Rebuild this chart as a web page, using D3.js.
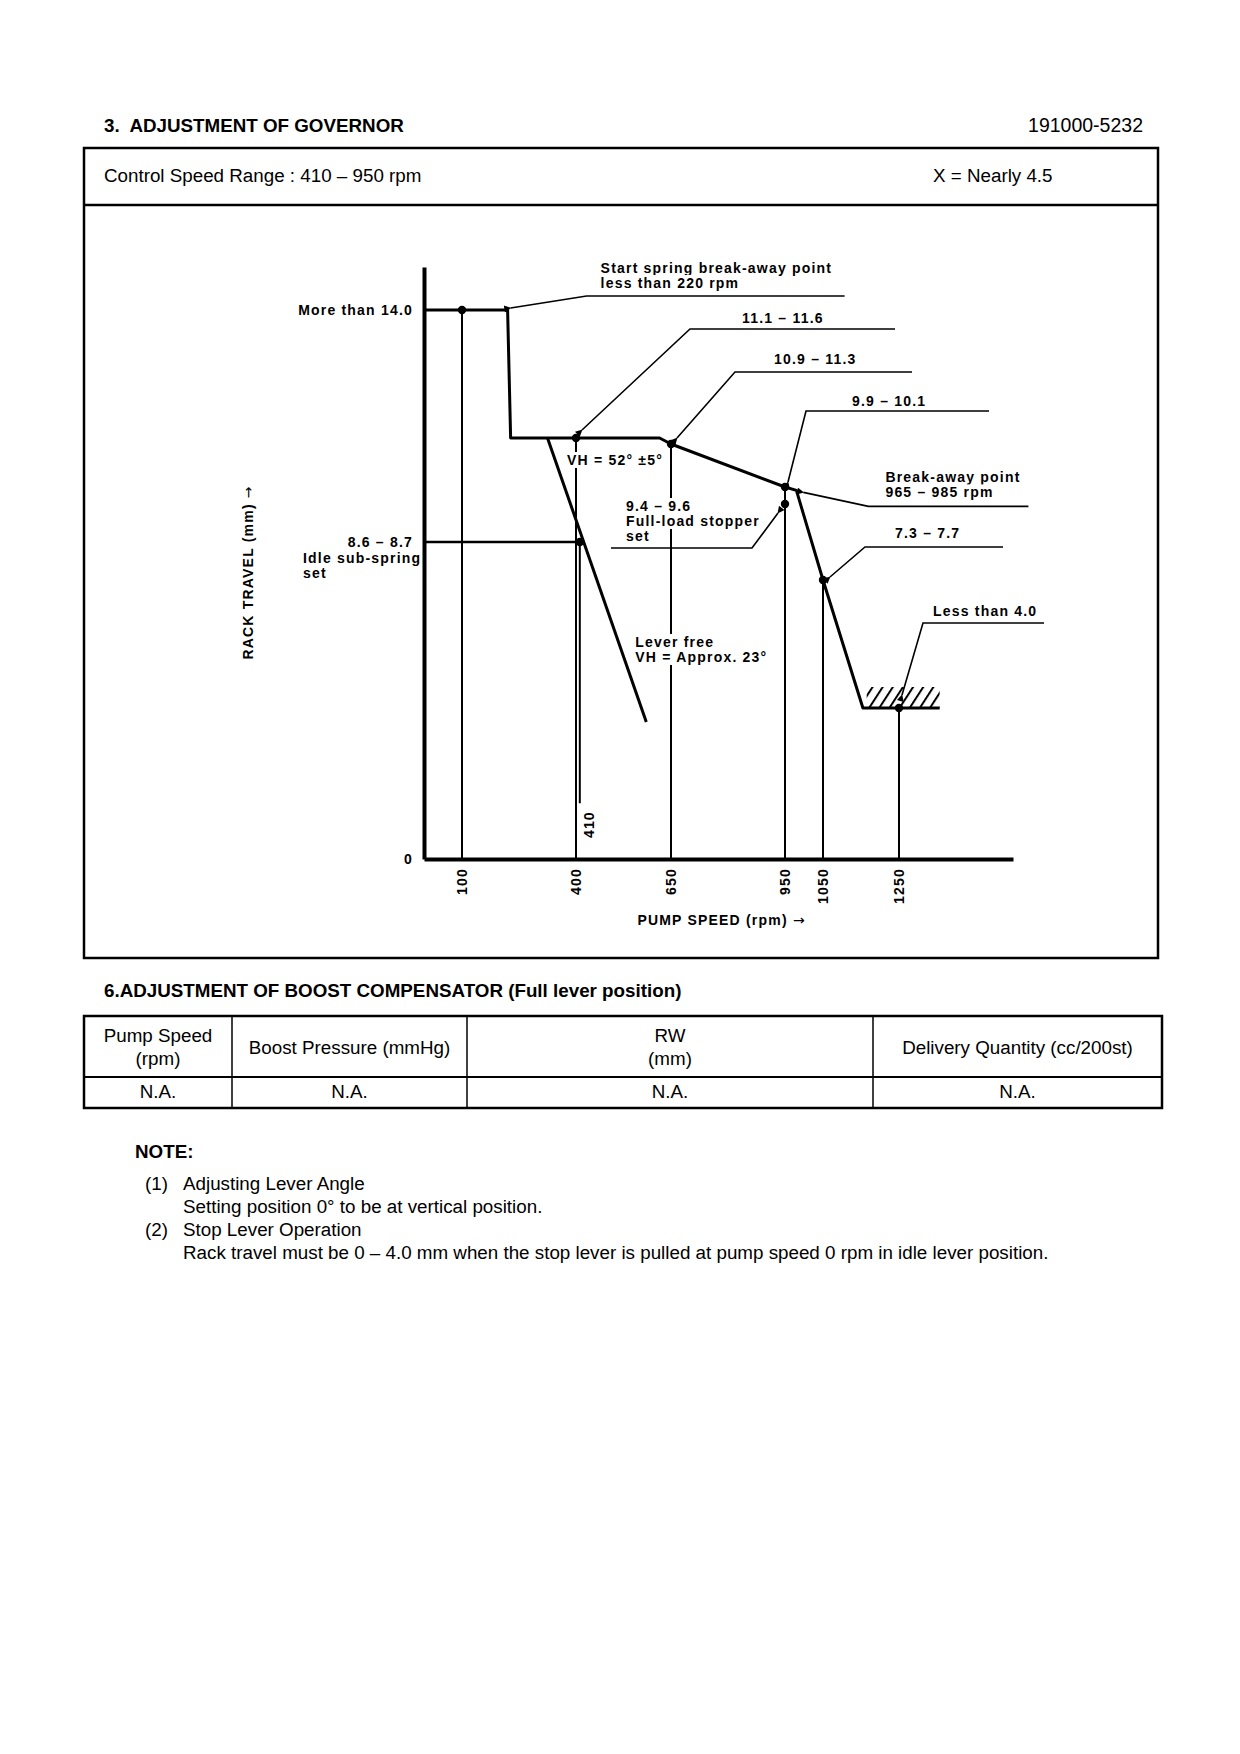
<!DOCTYPE html>
<html lang="en">
<head>
<meta charset="UTF-8">
<title>3. Adjustment of governor - 191000-5232</title>
<style>
  body { margin: 0; background: #fff; }
  svg { display: block; }
  .frame text { font-family: "Liberation Sans", Arial, sans-serif; font-size: 18.8px; fill: #000; }
  .frame .bold { font-weight: bold; }
  .chart text { font-family: "Liberation Sans", Arial, sans-serif; font-weight: bold; font-size: 14px; letter-spacing: 1.2px; fill: #000; }
  .chart .arrow { font-family: "DejaVu Sans", sans-serif; font-weight: normal; letter-spacing: 0; }
</style>
</head>
<body>
<svg id="page" width="1240" height="1754"></svg>
<script src="https://cdnjs.cloudflare.com/ajax/libs/d3/7.8.5/d3.min.js"></script>
<script>

// ---- data ----
let pumpNo = "191000-5232";
let controlRange = "Control Speed Range : 410 – 950 rpm";
let xValue = "X = Nearly 4.5";

let speedTicks = [100, 400, 650, 950, 1050, 1250];   // rpm
// governor curve at full lever, [rpm, rack mm]
let fullLoadCurve = [[0, 14.0], [100, 14.0], [220, 14.0], [228, 11.35], [400, 11.35], [620, 11.35],
                     [650, 11.1], [950, 10.0], [980, 9.9], [1050, 7.5], [1155, 4.0], [1357, 4.0]];
let leverFree = [[325, 11.35], [585, 3.63]];
let idleSet = [[0, 8.65], [410, 8.65]];
// vertical drop lines [rpm, from mm, to mm]
let dropLines = [[100, 14.0, 0], [400, 11.35, 0], [410, 8.65, 1.48], [650, 11.1, 0],
                 [950, 10.0, 0], [1050, 7.5, 0], [1250, 4.0, 0]];
let setPoints = [[100, 14.0], [400, 11.35], [410, 8.65], [650, 11.1], [950, 10.0], [950, 9.5], [1050, 7.5], [1250, 4.0]];
let stopRange = [1165, 1357];   // hatched stopper, rpm

let leaderLabels = [
  { at: [220, 14.0],  text: ["Start spring break-away point", "less than 220 rpm"] },
  { at: [400, 11.35], text: ["11.1 – 11.6"] },
  { at: [650, 11.1],  text: ["10.9 – 11.3"] },
  { at: [950, 10.0],  text: ["9.9 – 10.1"] },
  { at: [980, 9.9],   text: ["Break-away point", "965 – 985 rpm"] },
  { at: [1050, 7.5],  text: ["7.3 – 7.7"] },
  { at: [1250, 4.0],  text: ["Less than 4.0"] },
  { at: [950, 9.5],   text: ["9.4 – 9.6", "Full-load stopper", "set"] }
];

let tableHeads = [["Pump Speed", "(rpm)"], ["Boost Pressure (mmHg)"], ["RW", "(mm)"], ["Delivery Quantity (cc/200st)"]];
let tableRow = ["N.A.", "N.A.", "N.A.", "N.A."];

let notes = [
  ["(1)", "Adjusting Lever Angle", "Setting position 0° to be at vertical position."],
  ["(2)", "Stop Lever Operation", "Rack travel must be 0 – 4.0 mm when the stop lever is pulled at pump speed 0 rpm in idle lever position."]
];

// ---- page frame ----
const svg = d3.select("#page");
const frame = svg.append("g").attr("class", "frame");

frame.append("text").attr("class", "bold").attr("x", 104).attr("y", 132)
  .style("white-space", "pre").text("3.  ADJUSTMENT OF GOVERNOR");
frame.append("text").attr("x", 1143).attr("y", 132).attr("text-anchor", "end")
  .style("font-size", "19.5px").text(pumpNo);

frame.append("rect").attr("x", 84).attr("y", 148).attr("width", 1074).attr("height", 810)
  .attr("fill", "none").attr("stroke", "#000").attr("stroke-width", 2.5);
frame.append("line").attr("x1", 84).attr("x2", 1158).attr("y1", 205).attr("y2", 205)
  .attr("stroke", "#000").attr("stroke-width", 2.5);
frame.append("text").attr("x", 104).attr("y", 182).text(controlRange);
frame.append("text").attr("x", 933).attr("y", 182).text(xValue);

// boost compensator table
frame.append("text").attr("class", "bold").attr("x", 104).attr("y", 997)
  .text("6.ADJUSTMENT OF BOOST COMPENSATOR (Full lever position)");

let cols = [84, 232, 467, 873, 1162];
let tTop = 1016, tMid = 1077, tBot = 1108;
frame.append("rect").attr("x", cols[0]).attr("y", tTop).attr("width", cols[4] - cols[0]).attr("height", tBot - tTop)
  .attr("fill", "none").attr("stroke", "#000").attr("stroke-width", 2.5);
frame.append("line").attr("x1", cols[0]).attr("x2", cols[4]).attr("y1", tMid).attr("y2", tMid)
  .attr("stroke", "#000").attr("stroke-width", 2);
frame.selectAll(".coldiv").data(cols.slice(1, 4)).enter().append("line")
  .attr("x1", d => d).attr("x2", d => d).attr("y1", tTop).attr("y2", tBot)
  .attr("stroke", "#000").attr("stroke-width", 1.5);

tableHeads.forEach((lines, i) => {
  let cx = (cols[i] + cols[i + 1]) / 2;
  let base = lines.length > 1 ? 1042 : 1054;
  lines.forEach((s, j) => {
    frame.append("text").attr("x", cx).attr("y", base + j * 23).attr("text-anchor", "middle").text(s);
  });
  frame.append("text").attr("x", cx).attr("y", 1098).attr("text-anchor", "middle").text(tableRow[i]);
});

// notes
frame.append("text").attr("class", "bold").attr("x", 135).attr("y", 1158).text("NOTE:");
notes.forEach((n, i) => {
  let by = 1190 + i * 46;
  frame.append("text").attr("x", 145).attr("y", by).text(n[0]);
  frame.append("text").attr("x", 183).attr("y", by).text(n[1]);
  frame.append("text").attr("x", 183).attr("y", by + 23).text(n[2]);
});

// ---- governor diagram ----
const chart = svg.append("g").attr("class", "chart");

const x = d3.scaleLinear().domain([0, 1550]).range([424, 1013]);
// the sheet is drawn schematically, so rack travel uses a piecewise scale through the set values
const y = d3.scaleLinear()
  .domain([0, 4.0, 7.5, 8.65, 9.5, 10.0, 11.1, 11.35, 14.0, 15.0])
  .range([859, 708, 580, 542, 504, 487, 444, 438, 310, 267]);

const line = d3.line().x(d => x(d[0])).y(d => y(d[1]));

let defs = svg.append("defs");
defs.append("marker").attr("id", "arr").attr("viewBox", "0 0 10 10")
  .attr("refX", 1).attr("refY", 5).attr("markerWidth", 9).attr("markerHeight", 7)
  .attr("markerUnits", "userSpaceOnUse").attr("orient", "auto-start-reverse")
  .append("path").attr("d", "M0,5L10,0L10,10Z").attr("fill", "#000");
defs.append("pattern").attr("id", "hatch").attr("patternUnits", "userSpaceOnUse")
  .attr("width", 8.5).attr("height", 10).attr("patternTransform", "rotate(33)")
  .append("line").attr("x1", 1).attr("x2", 1).attr("y1", 0).attr("y2", 10)
  .attr("stroke", "#000").attr("stroke-width", 2);

// hatched stopper
chart.append("rect")
  .attr("x", x(stopRange[0])).attr("y", y(4.0) - 21)
  .attr("width", x(stopRange[1]) - x(stopRange[0])).attr("height", 21)
  .attr("fill", "url(#hatch)");

// drop lines
chart.selectAll(".drop").data(dropLines).enter().append("line")
  .attr("x1", d => x(d[0])).attr("x2", d => x(d[0]))
  .attr("y1", d => y(d[1])).attr("y2", d => y(d[2]))
  .attr("stroke", "#000").attr("stroke-width", 2);

chart.append("path").attr("d", line(idleSet)).attr("fill", "none")
  .attr("stroke", "#000").attr("stroke-width", 2.5);
chart.append("path").attr("d", line(leverFree)).attr("fill", "none")
  .attr("stroke", "#000").attr("stroke-width", 3);
chart.append("path").attr("d", line(fullLoadCurve)).attr("fill", "none")
  .attr("stroke", "#000").attr("stroke-width", 3).attr("stroke-linejoin", "round");

// axes
let xAxis = chart.append("g").attr("transform", `translate(0,${y(0)})`)
  .call(d3.axisBottom(x).tickValues(speedTicks).tickFormat(d3.format("d")).tickSize(0).tickSizeOuter(0));
xAxis.select(".domain").attr("stroke-width", 4);
xAxis.selectAll(".tick text")
  .attr("transform", "rotate(-90)").attr("x", -9).attr("y", 0).attr("dy", "0.35em")
  .attr("text-anchor", "end");

let yAxis = chart.append("g").attr("transform", `translate(${x(0)},0)`)
  .call(d3.axisLeft(y).tickValues([0, 14.0]).tickSize(0).tickSizeOuter(0).tickPadding(11)
    .tickFormat(d => d ? "More than 14.0" : "0"));
yAxis.select(".domain").attr("stroke-width", 4);

chart.append("text").attr("transform", `translate(${x(410) + 9},${y(1.48) + 8}) rotate(-90)`)
  .attr("dy", "0.35em").attr("text-anchor", "end").text("410");

let xTitle = chart.append("text").attr("x", 721).attr("y", y(0) + 66).attr("text-anchor", "middle")
  .text("PUMP SPEED (rpm) ");
xTitle.append("tspan").attr("class", "arrow").text("→");
let yTitle = chart.append("text").attr("transform", `translate(${x(0) - 176},573) rotate(-90)`)
  .attr("dy", "0.35em").attr("text-anchor", "middle").text("RACK TRAVEL (mm) ");
yTitle.append("tspan").attr("class", "arrow").text("→");

// labels sit on a blank patch, so lines behind them break as on the sheet
let labelLayer = chart.append("g");
function label(px, py, s) {
  let g = labelLayer.append("g");
  let bg = g.append("rect").attr("fill", "#fff");
  let t = g.append("text").attr("x", px).attr("y", py).text(s);
  let b = t.node().getBBox();
  bg.attr("x", b.x - 2).attr("y", b.y).attr("width", b.width + 3).attr("height", b.height);
  return t;
}

// labels without leaders
chart.append("text").attr("x", x(0) - 11).attr("y", y(8.65) + 5).attr("text-anchor", "end").text("8.6 – 8.7");
chart.append("text").attr("x", 303).attr("y", y(8.65) + 21).text("Idle sub-spring");
chart.append("text").attr("x", 303).attr("y", y(8.65) + 36).text("set");
label(x(400) - 9, y(11.35) + 27, "VH = 52° ±5°");
label(x(leverFree[1][0]) - 11, y(leverFree[1][1]) - 75, "Lever free");
label(x(leverFree[1][0]) - 11, y(leverFree[1][1]) - 60, "VH = Approx. 23°");

// leader geometry, pixels relative to the anchor point: tip, elbow, horizontal run, text offset from elbow
let leaderGeom = [
  { tip: [3, -2],  elbow: [79, -14],   run: 258,  tx: 14,   ty: -23 },
  { tip: [6, -8],  elbow: [114, -109], run: 205,  tx: 52,   ty: -6 },
  { tip: [6, -6],  elbow: [64, -72],   run: 177,  tx: 39,   ty: -8 },
  { tip: [3, -5],  elbow: [21, -76],   run: 183,  tx: 46,   ty: -5 },
  { tip: [7, 2],   elbow: [72, 16],    run: 160,  tx: 17,   ty: -24 },
  { tip: [7, -3],  elbow: [42, -33],   run: 138,  tx: 30,   ty: -9 },
  { tip: [3, -13], elbow: [24, -85],   run: 121,  tx: 10,   ty: -7 },
  { tip: [-7, 9],  elbow: [-33, 44],   run: -141, tx: -126, ty: -37 }
];

leaderLabels.forEach((lab, i) => {
  let g = leaderGeom[i];
  let px = x(lab.at[0]), py = y(lab.at[1]);
  let ex = px + g.elbow[0], ey = py + g.elbow[1];
  chart.append("path")
    .attr("d", `M${px + g.tip[0]},${py + g.tip[1]}L${ex},${ey}H${ex + g.run}`)
    .attr("fill", "none").attr("stroke", "#000").attr("stroke-width", 1.6)
    .attr("marker-start", "url(#arr)");
  lab.text.forEach((s, j) => label(ex + g.tx, ey + g.ty + j * 15, s));
});
labelLayer.raise();

// set points
chart.selectAll(".pt").data(setPoints).enter().append("circle")
  .attr("cx", d => x(d[0])).attr("cy", d => y(d[1])).attr("r", 4.2).attr("fill", "#000");

</script>
</body>
</html>
